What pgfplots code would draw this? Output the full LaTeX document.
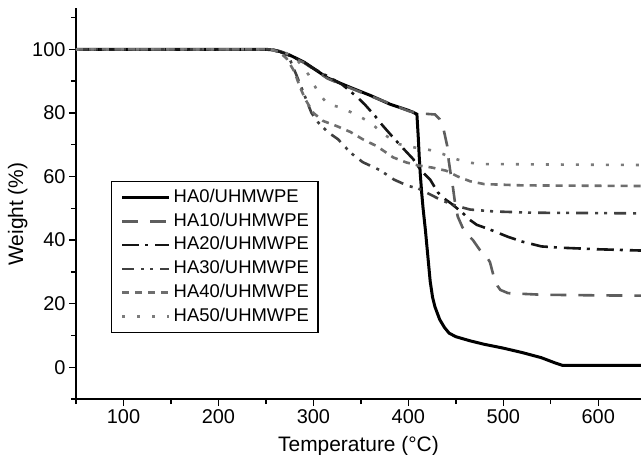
\documentclass[border=0pt]{standalone}
\usepackage{fontspec}
\setmainfont{Liberation Sans}
\usepackage{pgfplots}
\pgfplotsset{compat=1.18}
\definecolor{cA}{HTML}{5E5E5E}
\definecolor{cB}{HTML}{151515}
\definecolor{cC}{HTML}{404040}
\definecolor{cD}{HTML}{6E6E6E}
\definecolor{cE}{HTML}{7C7C7C}
\begin{document}
\begin{tikzpicture}
\begin{axis}[
  at={(0,0)}, anchor=south west,
  scale only axis, width=565bp, height=391bp,
  xmin=50, xmax=645, ymin=-10, ymax=113,
  axis lines=left,
  axis line style={-, line width=1.6bp, black},
  tick align=outside,
  xtick={100,200,...,600}, ytick={0,20,...,100},
  minor xtick={50,150,...,550}, minor ytick={-10,10,30,...,110},
  major tick length=7bp, minor tick length=5bp,
  tick style={black, line width=1.4bp},
  tick label style={font=\fontsize{20}{24}\selectfont},
  /pgf/number format/assume math mode=true,
  xlabel={Temperature (°C)}, ylabel={Weight (\%)},
  every axis x label/.style={at={(axis description cs:0.5,-0.1355)}, anchor=base, font=\fontsize{21}{25}\selectfont},
  every axis y label/.style={at={(axis description cs:-0.0938,0.473)}, rotate=90, anchor=base, font=\fontsize{21}{25}\selectfont},
  legend style={at={(axis description cs:0.062,0.5575)}, anchor=north west, draw=black, line width=1.4bp,
    inner xsep=9bp, inner ysep=8bp, row sep=8.3bp, column sep=3bp,
    font=\fontsize{18.5}{22}\selectfont,
    nodes={inner sep=0pt, text height=12.5bp, text depth=3bp}},
  legend cell align=left,
  legend image code/.code={\draw[#1] (0bp,0bp) -- (47bp,0bp);},
]
\addplot[black, line width=3bp] coordinates {
(50,100)(150,100)(250,100)(258,99.8)(265,99.3)(275,98.2)(290,96)(300,94)(315,91)(339,88)(360,85.5)(381,82.7)(400,80.8)(405,80.2)(409,79.6)(410.5,72)(411.5,66)(412.5,61)(414,55)(415.5,50)(418,43)(420.5,35)(423,27)(425.5,22)(428,19)(433,15)(438,12.5)(443,10.7)(450,9.6)(465,8.3)(480,7.2)(500,6)(520,4.6)(540,3)(555,1.3)(562,0.6)(645,0.6)
};
\addlegendentry{HA0/UHMWPE}
\addplot[cA, line width=2.6bp, dash pattern=on 16bp off 12bp] coordinates {
(50,100)(250,100)(258,99.8)(265,99.3)(275,98)(290,95.8)(300,93.8)(315,90.8)(339,87.8)(360,85.3)(380,83)(400,80.6)(410,79.9)(428,79.5)(433,78)(437,75)(441,69.5)(442.5,65)(444.5,61)(447,56.5)(449,52)(452,47.4)(457,44)(463,41.5)(468,40)(475,37)(482,35)(486,33)(490,28.4)(494,25.5)(497,24.3)(505,23.3)(540,22.8)(600,22.6)(645,22.5)
};
\addlegendentry{HA10/UHMWPE}
\addplot[cB, line width=2.6bp, dash pattern=on 17bp off 6bp on 3bp off 7bp] coordinates {
(50,100)(250,100)(258,99.8)(265,99.2)(275,98)(290,96)(300,94)(315,91.5)(330,89)(346,85)(354,82.7)(365,79)(373,76)(383,72.6)(394,69)(405,65.5)(413,62)(423,59)(431,55)(438,53)(445,51.5)(457,48.6)(465,46.3)(472,44.8)(486,43.3)(505,41)(520,39.5)(540,38)(560,37.6)(600,37.1)(645,36.7)
};
\addlegendentry{HA20/UHMWPE}
\addplot[cC, line width=2.6bp, dash pattern=on 12bp off 7bp on 3bp off 6bp on 3bp off 7bp] coordinates {
(50,100)(255,100)(265,99)(275,97)(282,92)(290,86)(298,80)(305,77)(315,74)(326,71.7)(339,67.5)(352,64.5)(370,62)(385,59)(400,57)(410,56.3)(422,54.5)(435,52.5)(450,50.8)(465,49.6)(490,49)(530,48.6)(645,48.4)
};
\addlegendentry{HA30/UHMWPE}
\addplot[cD, line width=2.6bp, dash pattern=on 7bp off 6bp] coordinates {
(50,100)(255,100)(265,99)(272,97)(280,93)(286,88)(292,84)(300,80)(310,77.5)(325,75.8)(339,74)(352,71.7)(367,69.5)(384,66)(398,64.4)(410,63.5)(425,62.8)(440,61.8)(452,60)(465,58.5)(480,57.6)(520,57.2)(645,57)
};
\addlegendentry{HA40/UHMWPE}
\addplot[cE, line width=2.6bp, dash pattern=on 3bp off 12bp] coordinates {
(50,100)(255,100)(270,99)(282,97)(295,92)(305,86.5)(315,82.7)(328,81.8)(344,79.6)(360,77)(373,73.5)(390,70.2)(405,69.2)(423,68.3)(437,67)(451,65.4)(465,64.3)(480,63.9)(645,63.6)
};
\addlegendentry{HA50/UHMWPE}
\end{axis}
\pgfresetboundingbox
\path[use as bounding box] (-76bp,-56bp) rectangle (565bp,399bp);
\end{tikzpicture}
\end{document}
